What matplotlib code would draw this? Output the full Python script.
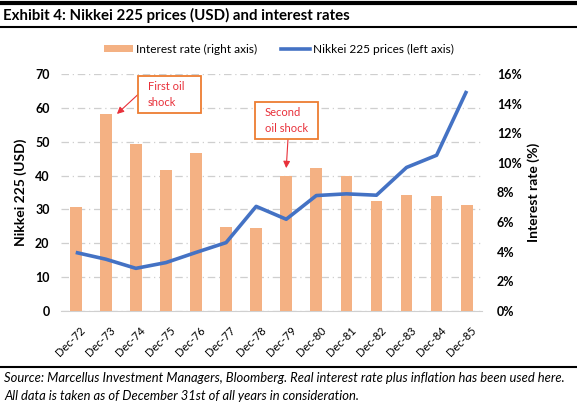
import matplotlib
matplotlib.use("Agg")
import matplotlib.pyplot as plt
from matplotlib.patches import Rectangle, Patch
from matplotlib.lines import Line2D

plt.rcParams['font.family'] = ['Lato', 'DejaVu Sans']

categories = ["Dec-72", "Dec-73", "Dec-74", "Dec-75", "Dec-76", "Dec-77", "Dec-78",
              "Dec-79", "Dec-80", "Dec-81", "Dec-82", "Dec-83", "Dec-84", "Dec-85"]
interest_rate = [7.04, 13.3, 11.27, 9.5, 10.65, 5.7, 5.6,
                 9.14, 9.66, 9.1, 7.45, 7.81, 7.79, 7.16]
nikkei_usd = [17.3, 15.3, 12.6, 14.3, 17.3, 20.2, 30.9,
              27.1, 34.1, 34.6, 34.2, 42.4, 46.0, 65.0]
left_ticks = [0, 10, 20, 30, 40, 50, 60, 70]
right_ticks = [0, 2, 4, 6, 8, 10, 12, 14, 16]

BAR_C = '#F4B183'
LINE_C = '#4472C4'
W, H = 577, 408
fig = plt.figure(figsize=(W / 100, H / 100), dpi=100)

def fx(px):
    return px / W
def fy(py):
    return 1 - py / H

ax = fig.add_axes([fx(60.7), fy(311), fx(481.7) - fx(60.7), fy(74) - fy(311)])
x = list(range(len(categories)))
ax.set_xlim(-0.5, len(categories) - 0.5)
ax.set_ylim(0, 70)
ax.set_yticks(left_ticks)
ax.set_yticklabels([str(t) for t in left_ticks], fontweight='bold', fontsize=9)
ax.yaxis.grid(True, color='#CFCFCF', linestyle=(0, (6, 3, 1, 3)), linewidth=0.9)
ax.set_axisbelow(True)
for s in ['top', 'right', 'left']:
    ax.spines[s].set_visible(False)
ax.spines['bottom'].set_color('#D0D0D0')
ax.tick_params(axis='y', length=0, pad=8)
ax.tick_params(axis='x', length=0, pad=10)
ax.set_xticks(x)
ax.set_xticklabels(categories, rotation=45, ha='right', rotation_mode='anchor', fontsize=8)
import matplotlib.transforms as mtransforms
offset = mtransforms.ScaledTranslation(4 / 100, 0, fig.dpi_scale_trans)
for lbl in ax.get_xticklabels():
    lbl.set_transform(lbl.get_transform() + offset)
ax.set_ylabel('Nikkei 225 (USD)', fontweight='bold', fontsize=10, labelpad=6)

axb = ax.twinx()
axb.bar(x, interest_rate, width=0.39, color=BAR_C, zorder=2)
axb.set_ylim(0, 16)
axb.set_yticks(right_ticks)
axb.set_yticklabels([f"{t}%" for t in right_ticks], fontweight='bold', fontsize=9)
axb.tick_params(axis='y', length=0, pad=11)
for s in axb.spines.values():
    s.set_visible(False)
axb.set_ylabel('Interest rate (%)', fontweight='bold', fontsize=10, labelpad=4)

axl = ax.twinx()
axl.plot(x, nikkei_usd, color=LINE_C, linewidth=2.6, solid_capstyle='butt')
axl.set_ylim(0, 70)
axl.set_yticks([])
for s in axl.spines.values():
    s.set_visible(False)

# Annotations
red = '#E8303A'
box_c = '#ED7D31'
fig.patches.append(Rectangle((fx(138), fy(113)), fx(201) - fx(138), fy(76) - fy(113),
                             transform=fig.transFigure, fill=True, facecolor='white',
                             edgecolor=box_c, linewidth=1.3, zorder=5))
fig.text(fx(148), fy(94.5), "First oil\nshock", color=red, fontsize=8, ha='left', va='center',
         linespacing=1.5, zorder=6)
axl.annotate("", xy=(1.37, 58.2), xycoords='data',
             xytext=(fx(138), fy(94.5)), textcoords='figure fraction',
             arrowprops=dict(arrowstyle='-|>', color=red, lw=0.8, mutation_scale=10,
                             shrinkA=0, shrinkB=0))
fig.patches.append(Rectangle((fx(255), fy(139)), fx(318) - fx(255), fy(102) - fy(139),
                             transform=fig.transFigure, fill=True, facecolor='white',
                             edgecolor=box_c, linewidth=1.3, zorder=5))
fig.text(fx(265), fy(120.5), "Second\noil shock", color=red, fontsize=8, ha='left', va='center',
         linespacing=1.5, zorder=6)
axl.annotate("", xy=(7.0, 42.2), xycoords='data',
             xytext=(fx(288), fy(139)), textcoords='figure fraction',
             arrowprops=dict(arrowstyle='-|>', color=red, lw=0.8, mutation_scale=10,
                             shrinkA=0, shrinkB=0))

# Legend
handles = [Patch(facecolor=BAR_C, edgecolor='none'),
           Line2D([0], [0], color=LINE_C, linewidth=2.6)]
fig.legend(handles, ['Interest rate (right axis)', 'Nikkei 225 prices (left axis)'],
           loc='center', bbox_to_anchor=(fx(279), fy(49)), ncol=2, frameon=False,
           handlelength=2.4, handleheight=0.5, handletextpad=0.25,
           columnspacing=2.0, prop={'weight': 'normal', 'size': 8.6})

# Title and rules
fig.add_artist(Line2D([0, 1], [fy(3), fy(3)], color='black', linewidth=3, transform=fig.transFigure))
fig.add_artist(Line2D([0, 1], [fy(27), fy(27)], color='black', linewidth=1.5, transform=fig.transFigure))
fig.text(fx(3), fy(15.5), "Exhibit 4: Nikkei 225 prices (USD) and interest rates",
         fontweight='bold', fontsize=10.8, ha='left', va='center')
fig.add_artist(Line2D([0, 1], [fy(367), fy(367)], color='black', linewidth=1.5, transform=fig.transFigure))
fig.text(fx(4), fy(378), "Source: Marcellus Investment Managers, Bloomberg. Real interest rate plus inflation has been used here.",
         style='italic', fontsize=9.4, ha='left', va='center')
fig.text(fx(4), fy(396), "All data is taken as of December 31st of all years in consideration.",
         style='italic', fontsize=9.4, ha='left', va='center')

fig.savefig('out.png', dpi=100)
